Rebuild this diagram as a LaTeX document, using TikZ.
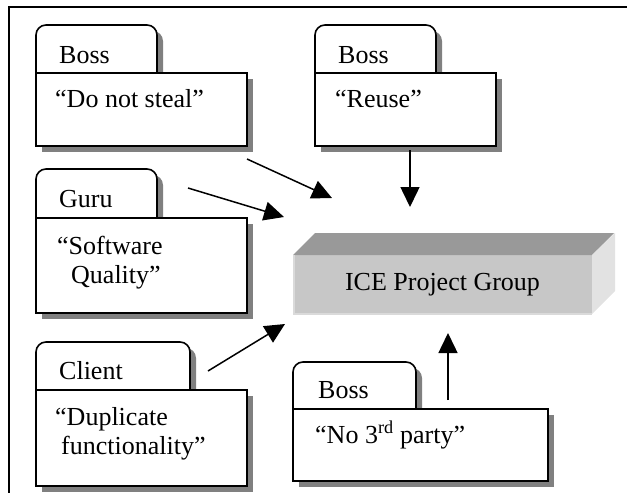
\documentclass[tikz,border=0pt]{standalone}
\usepackage{fontspec}
\setmainfont{Liberation Serif}
\usetikzlibrary{arrows.meta}

\definecolor{shadowgray}{RGB}{128,128,128}
\definecolor{topgray}{RGB}{153,153,153}
\definecolor{frontgray}{RGB}{199,199,199}
\definecolor{sidegray}{RGB}{226,226,226}
\definecolor{edgegray}{RGB}{218,218,218}

\tikzset{
  holder/.style={draw=none, inner sep=0pt, outer sep=0pt, anchor=north west},
  outline/.style={draw=black, line width=1.6pt, fill=white},
  label/.style={inner sep=0pt, anchor=base west},
  influence/.style={line width=1.5pt, -{Triangle[length=20pt,width=19pt]}},
}

% A note with a rounded tab on top and a drop shadow.
% #1 name, #2 left, #3 tab top, #4 tab right, #5 body top, #6 body right, #7 body bottom
\newcommand\memobox[7]{%
  \node[holder, minimum width={(#4)-(#2)}, minimum height={(#5)-(#3)}] (#1tab) at (#2,#3) {};
  \node[holder, minimum width={(#6)-(#2)}, minimum height={(#7)-(#5)}] (#1body) at (#2,#5) {};
  \fill[shadowgray] ([shift={(6pt,-6pt)}]#1tab.south west) [rounded corners=10pt]
    -- ([shift={(6pt,-6pt)}]#1tab.north west) -- ([shift={(6pt,-6pt)}]#1tab.north east)
    [sharp corners] -- ([shift={(6pt,-6pt)}]#1tab.south east) -- cycle;
  \fill[shadowgray] ([shift={(6pt,-6pt)}]#1body.south west) rectangle ([shift={(6pt,-6pt)}]#1body.north east);
  \path[outline] (#1tab.south west) [rounded corners=10pt] -- (#1tab.north west)
    -- (#1tab.north east) [sharp corners] -- (#1tab.south east);
  \path[outline] (#1body.south west) rectangle (#1body.north east);
}

\begin{document}
\begin{tikzpicture}[x=1pt, y=-1pt, font=\fontsize{26}{29}\selectfont]
\useasboundingbox (0,0) rectangle (627,493);

% page frame (top and left rules)
\draw[line width=2pt] (9,493) -- (9,7) -- (627,7);

% notes
\memobox{boss1}{36}{25}{157}{73}{247}{146}
\memobox{boss2}{315}{25}{436}{73}{496}{146}
\memobox{guru}{36}{169}{157}{218}{247}{313}
\memobox{client}{36}{342}{190}{390}{247}{486}
\memobox{boss3}{293}{362}{416}{409}{548}{481}

\node[label] (boss1lab) at (59,63) {Boss};
\node[label] (boss1txt) at (55,107) {“Do not steal”};
\node[label] (boss2lab) at (338,63) {Boss};
\node[label] (boss2txt) at (335,107) {“Reuse”};
\node[label] (gurulab) at (59,207) {Guru};
\node[label] (gurutxt) at (57,254) {\begin{tabular}[t]{@{}l@{}}“Software\\\hspace*{14pt}Quality”\end{tabular}};
\node[label] (clientlab) at (59,379) {Client};
\node[label] (clienttxt) at (55,425) {\begin{tabular}[t]{@{}l@{}}“Duplicate\\\hspace*{6pt}functionality”\end{tabular}};
\node[label] (boss3lab) at (318,398) {Boss};
\node[label] (boss3txt) at (315,443) {“No 3\textsuperscript{rd} party”};

% the project group as a raised slab
\node[holder, fill=frontgray, minimum width=299, minimum height=59] (ice) at (293,255) {};
\fill[topgray] (ice.north west) -- ++(22,-22) -- ++(299,0) -- (ice.north east) -- cycle;
\fill[sidegray] (ice.north east) -- ++(23,-22) -- ++(0,58) -- (ice.south east) -- cycle;
\draw[edgegray, line width=1.5pt] ([shift={(0.75,0)}]ice.north west) -- ([shift={(0.75,0)}]ice.south west) -- (ice.south east);
\node[inner sep=0pt] (icelab) at (ice.center) {ICE Project Group};

% influences on the group
\coordinate (a1s) at (247,159); \coordinate (a1e) at (332,198);
\coordinate (a2s) at (188,188); \coordinate (a2e) at (284,217);
\coordinate (a3s) at (208,371); \coordinate (a3e) at (285,324);
\coordinate (a4s) at (410,150); \coordinate (a4e) at (410,207);
\coordinate (a5s) at (448,400); \coordinate (a5e) at (448,333);
\draw[influence] (a1s) -- (a1e);
\draw[influence] (a2s) -- (a2e);
\draw[influence] (a3s) -- (a3e);
\draw[influence] (a4s) -- (a4e);
\draw[influence] (a5s) -- (a5e);
\end{tikzpicture}
\end{document}
